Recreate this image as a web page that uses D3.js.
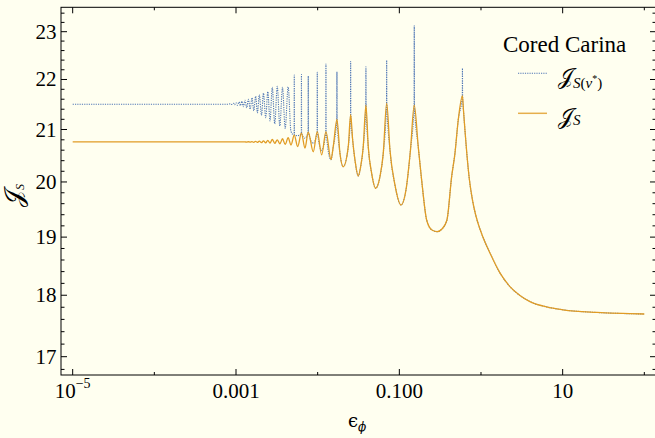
<!DOCTYPE html>
<html>
<head>
<meta charset="utf-8">
<script src="https://cdn.jsdelivr.net/npm/d3@7"></script>
<style>
  html, body { margin: 0; padding: 0; background: #FFFFF0; }
  svg { display: block; }
</style>
</head>
<body>
<svg id="chart" width="655" height="438"></svg>
<script>
// ---- data -------------------------------------------------------------
// resonance positions (n = 1, 2, 3, ...) and the heights reached there
const resonanceEps = [0.5928, 0.1523, 0.0700, 0.0390, 0.02535, 0.01722, 0.01263, 0.00989, 0.00767, 0.00633,
  0.00517, 0.00435, 0.00371, 0.00320, 0.00278, 0.00245, 0.00217, 0.00193, 0.00174, 0.00157,
  0.00142, 0.00129, 0.00118, 0.00109, 0.00100, 0.00093, 0.00086];
const peakBlue = [22.23, 23.13, 22.40, 22.26, 22.37, 22.16, 22.32, 22.15, 22.07, 22.10,
  22.09, 21.85, 21.84, 21.86, 21.84, 21.75, 21.72, 21.69, 21.66, 21.63,
  21.60, 21.58, 21.56, 21.545, 21.53, 21.52, 21.51];
const peakOrange = [21.665, 21.48, 21.52, 21.48, 21.29, 21.20, 20.96, 20.96, 20.95, 20.93,
  20.89, 20.84, 20.82, 20.80, 20.81, 20.79, 20.78, 20.775, 20.77, 20.765,
  20.762, 20.76, 20.76, 20.76, 20.76, 20.76, 20.76];

// minima between resonance n and n+1
const troughEps = [0.2913, 0.1047, 0.0513, 0.0314, 0.02057, 0.01455, 0.01119, 0.00883, 0.00699, 0.00569,
  0.00471, 0.00400, 0.00344, 0.00298, 0.00261, 0.00231, 0.00205, 0.00183, 0.00165, 0.00149,
  0.00135, 0.00123, 0.00113, 0.00104, 0.00096, 0.00089];
const troughOrange = [19.096, 19.576, 19.883, 20.111, 20.286, 20.42, 20.51, 20.57, 20.64, 20.67,
  20.70, 20.71, 20.72, 20.73, 20.735, 20.74, 20.745, 20.75, 20.75, 20.755,
  20.755, 20.76, 20.76, 20.76, 20.76, 20.76];
const troughBlue = [19.096, 19.576, 19.883, 20.111, 20.286, 20.42, 20.60, 20.73, 20.83, 20.88,
  20.96, 21.02, 21.07, 21.11, 21.17, 21.23, 21.28, 21.33, 21.37, 21.40,
  21.43, 21.45, 21.47, 21.48, 21.49, 21.495];

// flanks of the wide resonances
const flankEps = [0.01552, 0.018745, 0.02369, 0.02682, 0.02862, 0.03360, 0.03615, 0.04164, 0.04582, 0.05790,
  0.06355, 0.07677, 0.08841, 0.12056, 0.13686, 0.17046, 0.18758, 0.21604, 0.25083, 0.33251,
  0.38287, 0.43706, 0.47973, 0.52651];
const flankJ = [20.667, 20.540, 20.667, 20.796, 20.413, 20.286, 20.667, 20.667, 20.162, 20.098,
  20.540, 20.604, 19.944, 19.851, 20.604, 20.667, 20.037, 19.305, 19.126, 19.144,
  19.305, 20.098, 20.540, 21.187];

// decay past the first resonance
const tailEps = [0.6098, 0.6360, 0.6730, 0.7222, 0.7858, 0.8673, 0.9707, 1.1176, 1.2871, 1.7061,
  2.2624, 2.9988, 3.9756, 6.3651, 10.08, 26.30, 100];
const tailJ = [21.385, 20.990, 20.508, 20.037, 19.668, 19.377, 19.144, 18.914, 18.722, 18.377,
  18.144, 17.996, 17.893, 17.805, 17.758, 17.714, 17.689];

// plateau at small coupling
const plateauEps = [1e-5, 0.0008];
const flatBlue = 21.50;
const flatOrange = 20.76;

// axis ticks
const xMajor = [1e-5, 1e-3, 1e-1, 10];
const xLabels = [["10", "−5"], ["0.001"], ["0.100"], ["10"]];
const xMinor = [1e-4, 1e-2, 1, 100];
const yMajor = [17, 18, 19, 20, 21, 22, 23];
const yMinor = [16.8, 17.2, 17.4, 17.6, 17.8, 18.2, 18.4, 18.6, 18.8, 19.2, 19.4, 19.6, 19.8,
  20.2, 20.4, 20.6, 20.8, 21.2, 21.4, 21.6, 21.8, 22.2, 22.4, 22.6, 22.8, 23.2, 23.4];

// ---- layout -------------------------------------------------------------
const frameL = 61, frameR = 656, frameT = 7.3, frameB = 375;
const blueColor = "#4F76B4";
const orangeColor = "#E19C24";
const serif = "'Liberation Serif', 'Times New Roman', 'DejaVu Serif', serif";
const scriptFont = "'DejaVu Serif', 'DejaVu Sans', serif";

const svg = d3.select("#chart").attr("font-family", serif);
svg.append("rect").attr("width", 655).attr("height", 438).attr("fill", "#FFFFF0");

const x = d3.scaleLog().domain([Math.pow(10, -5.143), Math.pow(10, 2.143)]).range([frameL, frameR]);
const y = d3.scaleLog().domain([16.713, 23.528]).range([frameB, frameT]);

// ---- build the curves ------------------------------------------------------
const orangePts = plateauEps.map(e => [e, flatOrange]);
resonanceEps.forEach((e, i) => orangePts.push([e, peakOrange[i]]));
troughEps.forEach((e, i) => orangePts.push([e, troughOrange[i]]));
flankEps.forEach((e, i) => orangePts.push([e, flankJ[i]]));
tailEps.forEach((e, i) => orangePts.push([e, tailJ[i]]));
orangePts.sort((a, b) => a[0] - b[0]);

// blue: own oscillation for n >= 7, then it rides on the orange curve with narrow spikes
const spikeHalf = 0.004;
const split = troughEps[5];
const bluePts = plateauEps.map(e => [e, flatBlue]);
for (let i = resonanceEps.length - 1; i >= 6; i--) {
  if (i < troughEps.length) bluePts.push([troughEps[i], troughBlue[i]]);
  if (i <= 10) bluePts.push([resonanceEps[i] * (1 - spikeHalf), peakOrange[i]]);
  bluePts.push([resonanceEps[i], peakBlue[i]]);
  if (i <= 10) bluePts.push([resonanceEps[i] * (1 + spikeHalf), peakOrange[i]]);
}
orangePts.filter(p => p[0] >= split).forEach(p => {
  const k = resonanceEps.indexOf(p[0]);
  if (k >= 0 && k < 6) {
    bluePts.push([p[0] * (1 - spikeHalf), p[1]]);
    bluePts.push([p[0], peakBlue[k]]);
    bluePts.push([p[0] * (1 + spikeHalf), p[1]]);
  } else {
    bluePts.push(p);
  }
});
bluePts.sort((a, b) => a[0] - b[0]);

const line = d3.line().x(d => x(d[0])).y(d => y(d[1])).curve(d3.curveMonotoneX);

const plot = svg.append("g");
plot.append("path").datum(bluePts).attr("d", line)
  .attr("fill", "none").attr("stroke", blueColor).attr("stroke-width", 1.1)
  .attr("stroke-dasharray", "1.2 1.1");
plot.append("path").datum(orangePts).attr("d", line)
  .attr("fill", "none").attr("stroke", orangeColor).attr("stroke-width", 1.3);

// ---- frame and ticks ------------------------------------------------------
const frame = svg.append("g").attr("stroke", "#000").attr("stroke-width", 1);
frame.append("rect").attr("x", frameL).attr("y", frameT)
  .attr("width", frameR - frameL).attr("height", frameB - frameT).attr("fill", "none");

function xTick(v, len) {
  frame.append("line").attr("x1", x(v)).attr("x2", x(v)).attr("y1", frameB).attr("y2", frameB - len);
  frame.append("line").attr("x1", x(v)).attr("x2", x(v)).attr("y1", frameT).attr("y2", frameT + len);
}
function yTick(v, len) {
  frame.append("line").attr("x1", frameL).attr("x2", frameL + len).attr("y1", y(v)).attr("y2", y(v));
  frame.append("line").attr("x1", frameR).attr("x2", frameR - len).attr("y1", y(v)).attr("y2", y(v));
}
xMajor.forEach(v => xTick(v, 6));
xMinor.forEach(v => xTick(v, 3));
yMajor.forEach(v => yTick(v, 6));
yMinor.forEach(v => yTick(v, 3.5));

// tick labels
xMajor.forEach((v, i) => {
  const t = svg.append("text").attr("x", x(v)).attr("y", 397.7)
    .attr("text-anchor", "middle").attr("font-size", 21).attr("font-family", serif);
  t.append("tspan").text(xLabels[i][0]);
  if (xLabels[i].length > 1) {
    t.append("tspan").attr("font-size", 14).attr("dy", -9.5).text(xLabels[i][1]);
  }
});
yMajor.forEach(v => {
  svg.append("text").attr("x", 56.5).attr("y", y(v) + 7).attr("font-family", serif)
    .attr("text-anchor", "end").attr("font-size", 21).text(String(v));
});

// axis titles
const xt = svg.append("text").attr("x", 348).attr("y", 427).attr("font-size", 18)
  .attr("font-family", "'DejaVu Serif', serif");
xt.append("tspan").text("ϵ");
xt.append("tspan").attr("font-size", 12).attr("dy", 4).attr("font-style", "italic").text("ϕ");

const yt = svg.append("text").attr("transform", "translate(22,207) rotate(-90)").attr("font-size", 25);
yt.append("tspan").attr("font-family", scriptFont).text("𝒥");
yt.append("tspan").attr("font-size", 12).attr("dy", 2).attr("font-style", "italic").text("S");

// ---- legend ---------------------------------------------------------------
svg.append("text").attr("x", 503).attr("y", 51.7).attr("font-size", 23)
  .attr("font-family", serif).text("Cored Carina");

svg.append("line").attr("x1", 518).attr("x2", 547).attr("y1", 73.3).attr("y2", 73.3)
  .attr("stroke", blueColor).attr("stroke-width", 1.1).attr("stroke-dasharray", "1.2 1.1");
const l1 = svg.append("text").attr("x", 558).attr("y", 84).attr("font-size", 22);
l1.append("tspan").attr("font-family", scriptFont).text("𝒥");
l1.append("tspan").attr("font-size", 15).attr("dy", 3.5).attr("font-style", "italic").text("S");
l1.append("tspan").attr("font-size", 15).text("(");
l1.append("tspan").attr("font-size", 15).attr("font-style", "italic").text("ν");
l1.append("tspan").attr("font-size", 10).attr("dy", -6).text("*");
l1.append("tspan").attr("font-size", 15).attr("dy", 6).text(")");

svg.append("line").attr("x1", 518).attr("x2", 547).attr("y1", 113.3).attr("y2", 113.3)
  .attr("stroke", orangeColor).attr("stroke-width", 1.5).attr("opacity", 0.8);
const l2 = svg.append("text").attr("x", 558).attr("y", 124).attr("font-size", 22);
l2.append("tspan").attr("font-family", scriptFont).text("𝒥");
l2.append("tspan").attr("font-size", 15).attr("dy", 1).attr("font-style", "italic").text("S");
</script>
</body>
</html>
